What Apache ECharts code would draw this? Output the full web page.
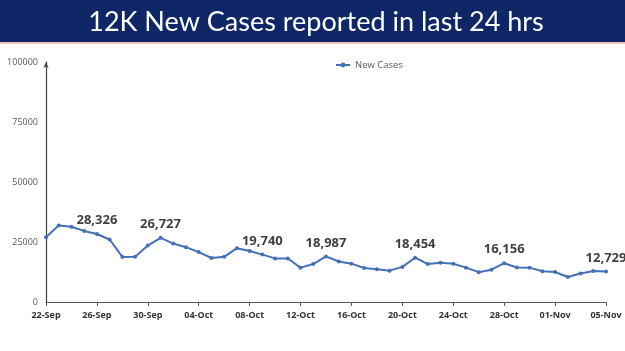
<!DOCTYPE html>
<html>
<head>
<meta charset="utf-8">
<script src="https://cdn.jsdelivr.net/npm/echarts@6/dist/echarts.min.js"></script>
<style>
html,body{margin:0;padding:0;background:#fff;}
#chart{width:625px;height:351px;}
</style>
</head>
<body>
<div id="chart"></div>
<script>
var titleText = '12K New Cases reported in last 24 hrs';
var seriesName = 'New Cases';
var categories = ['22-Sep','23-Sep','24-Sep','25-Sep','26-Sep','27-Sep','28-Sep','29-Sep','30-Sep',
'01-Oct','02-Oct','03-Oct','04-Oct','05-Oct','06-Oct','07-Oct','08-Oct','09-Oct','10-Oct','11-Oct',
'12-Oct','13-Oct','14-Oct','15-Oct','16-Oct','17-Oct','18-Oct','19-Oct','20-Oct','21-Oct','22-Oct',
'23-Oct','24-Oct','25-Oct','26-Oct','27-Oct','28-Oct','29-Oct','30-Oct','31-Oct',
'01-Nov','02-Nov','03-Nov','04-Nov','05-Nov'];
var newCases = [26964,31923,31382,29616,28326,26041,18795,18870,23529,
26727,24354,22842,20799,18346,18833,22431,21257,19740,18166,18132,
14313,15823,18987,16862,15981,14146,13596,13058,14623,18454,15786,
16326,15906,14306,12428,13451,16156,14348,14313,12830,
12514,10423,11903,12885,12729];
var labelledDates = ['26-Sep','01-Oct','09-Oct','14-Oct','21-Oct','28-Oct','05-Nov'];
var yTicks = [0,25000,50000,75000,100000];

var chart = echarts.init(document.getElementById('chart'));
var data = newCases.map(function(v,i){
  var show = labelledDates.indexOf(categories[i]) >= 0;
  return {value:v, label:{show:show}};
});
chart.setOption({
  animation:false,
  backgroundColor:'#ffffff',
  graphic:[
    {type:'rect', shape:{x:0,y:0,width:625,height:42}, style:{fill:'#0f2667'}},
    {type:'rect', shape:{x:0,y:42,width:625,height:2}, style:{fill:'#f0c4bd'}},
    {type:'text', x:316, y:22, style:{text:titleText, fill:'#ffffff', font:'27px Lato, "Open Sans", sans-serif', textAlign:'center', textVerticalAlign:'middle'}}
  ],
  legend:{
    data:[seriesName], top:55, left:330, itemWidth:14, itemHeight:6,
    textStyle:{fontSize:9.5, color:'#595959', fontFamily:'"Open Sans", sans-serif'},
    itemGap:2
  },
  grid:{left:46, right:19, top:62, bottom:49, containLabel:false},
  xAxis:{
    type:'category', data:categories, boundaryGap:false,
    axisLine:{lineStyle:{color:'#595959', width:1}},
    axisTick:{show:true, interval:3, length:4, lineStyle:{color:'#595959'}},
    axisLabel:{interval:3, fontSize:9, fontWeight:'bold', color:'#333333', margin:9, fontFamily:'"Open Sans", sans-serif'}
  },
  yAxis:{
    type:'value', min:0, max:100000, interval:25000,
    splitLine:{show:false},
    axisLine:{show:true, symbol:['none','arrow'], symbolSize:[4,6], lineStyle:{color:'#404040', width:1.2}},
    axisTick:{show:false},
    axisLabel:{fontSize:9, color:'#595959', margin:8, fontFamily:'"Open Sans", sans-serif',
      formatter:function(v){return yTicks.indexOf(v)>=0 ? String(v) : '';}}
  },
  series:[{
    name:seriesName, type:'line', data:data,
    symbol:'circle', symbolSize:4,
    itemStyle:{color:'#4470b8'},
    lineStyle:{color:'#4470b8', width:2},
    label:{position:'top', distance:5, fontSize:13, fontWeight:'bold', color:'#404040',
      fontFamily:'"Open Sans", sans-serif',
      formatter:function(p){return p.value.toLocaleString('en-US');}}
  }]
});
</script>
</body>
</html>
